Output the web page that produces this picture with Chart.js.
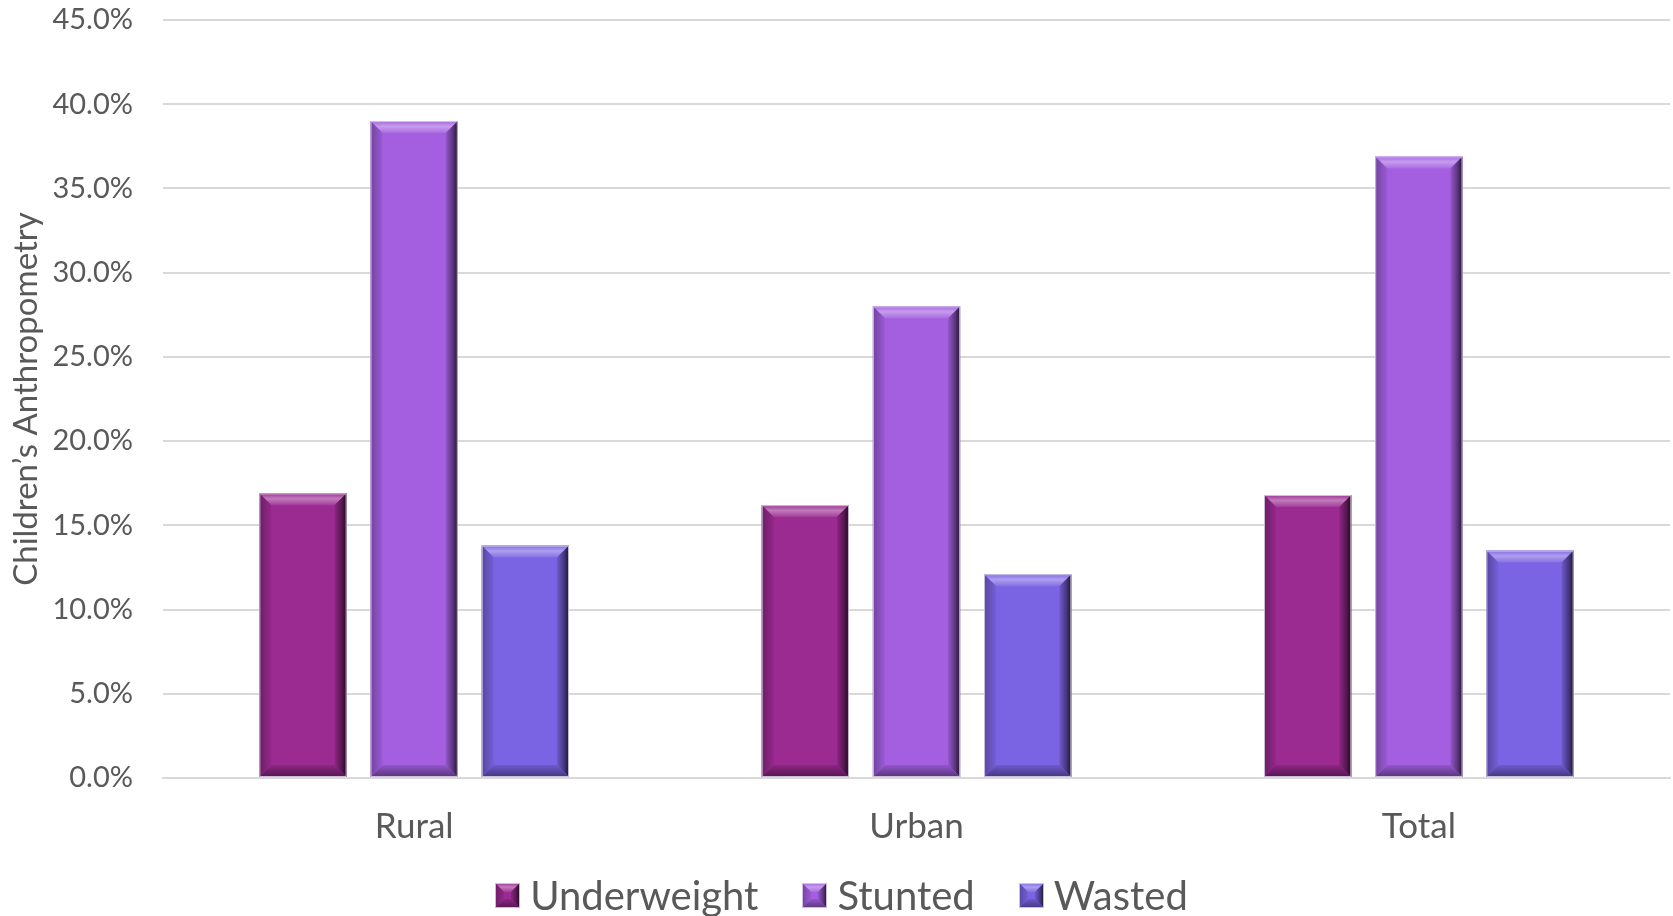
<!DOCTYPE html>
<html>
<head>
<meta charset="utf-8">
<script src="https://cdn.jsdelivr.net/npm/chart.js@4.4.1/dist/chart.umd.min.js"></script>
<style>
  html, body { margin: 0; padding: 0; background: #ffffff; }
  #wrap { position: relative; width: 1673px; height: 916px; overflow: hidden; }
  #c { position: absolute; left: 0; top: 0; }
  #legend { position: absolute; left: 5px; width: 1673px; top: 872px; height: 46px;
    display: flex; justify-content: center; align-items: center;
    font-family: Lato, 'Open Sans', sans-serif; font-size: 40px; color: #595959; }
  .item { display: flex; align-items: center; margin: 0 22px; }
  .item canvas { margin-right: 10px; }
</style>
</head>
<body>
<div id="wrap"><canvas id="c" width="1673" height="916"></canvas><div id="legend"></div></div>
<script>
const categories = ["Rural", "Urban", "Total"];
const underweight = [16.9, 16.2, 16.8];
const stunted = [39.0, 28.0, 36.9];
const wasted = [13.8, 12.1, 13.5];
const seriesNames = ["Underweight", "Stunted", "Wasted"];
const seriesColors = ["#9B2A91", "#A35FE0", "#7B64E3"];
const yTitle = "Children\u2019s Anthropometry";

function shade(hex, f) {
  const n = parseInt(hex.slice(1), 16);
  let r = (n >> 16) & 255, g = (n >> 8) & 255, b = n & 255;
  if (f >= 0) { r += (255 - r) * f; g += (255 - g) * f; b += (255 - b) * f; }
  else { r *= 1 + f; g *= 1 + f; b *= 1 + f; }
  return `rgb(${Math.round(r)},${Math.round(g)},${Math.round(b)})`;
}

function drawBevel(ctx, l, t, r, bot, color, bv) {
  const w = r - l, h = bot - t;
  bv = Math.min(bv, w / 2, h / 2);
  let g = ctx.createLinearGradient(0, t, 0, t + bv);
  g.addColorStop(0, shade(color, 0.05));
  g.addColorStop(0.45, shade(color, 0.38));
  g.addColorStop(1, shade(color, 0.08));
  ctx.fillStyle = g;
  ctx.beginPath(); ctx.moveTo(l, t); ctx.lineTo(r, t); ctx.lineTo(r - bv, t + bv); ctx.lineTo(l + bv, t + bv); ctx.closePath(); ctx.fill();
  g = ctx.createLinearGradient(r - bv, 0, r, 0);
  g.addColorStop(0, shade(color, -0.1));
  g.addColorStop(0.6, shade(color, -0.45));
  g.addColorStop(1, shade(color, -0.8));
  ctx.fillStyle = g;
  ctx.beginPath(); ctx.moveTo(r, t); ctx.lineTo(r, bot); ctx.lineTo(r - bv, bot - bv); ctx.lineTo(r - bv, t + bv); ctx.closePath(); ctx.fill();
  g = ctx.createLinearGradient(0, bot - bv, 0, bot);
  g.addColorStop(0, shade(color, -0.1));
  g.addColorStop(1, shade(color, -0.45));
  ctx.fillStyle = g;
  ctx.beginPath(); ctx.moveTo(l, bot); ctx.lineTo(r, bot); ctx.lineTo(r - bv, bot - bv); ctx.lineTo(l + bv, bot - bv); ctx.closePath(); ctx.fill();
  g = ctx.createLinearGradient(l, 0, l + bv, 0);
  g.addColorStop(0, shade(color, -0.3));
  g.addColorStop(1, shade(color, -0.05));
  ctx.fillStyle = g;
  ctx.beginPath(); ctx.moveTo(l, t); ctx.lineTo(l, bot); ctx.lineTo(l + bv, bot - bv); ctx.lineTo(l + bv, t + bv); ctx.closePath(); ctx.fill();
  ctx.strokeStyle = "rgba(215,205,230,0.9)";
  ctx.lineWidth = 1;
  ctx.strokeRect(l + 0.5, t + 0.5, w - 1, h - 1);
}

function legendIcon(color) {
  const s = 25;
  const cv = document.createElement("canvas");
  cv.width = s; cv.height = s;
  const ctx = cv.getContext("2d");
  ctx.fillStyle = color;
  ctx.fillRect(0, 0, s, s);
  drawBevel(ctx, 0, 0, s, s, color, 9);
  return cv;
}

const bevelPlugin = {
  id: "bevel",
  afterDatasetsDraw(chart) {
    const ctx = chart.ctx;
    ctx.save();
    chart.data.datasets.forEach((ds, i) => {
      const meta = chart.getDatasetMeta(i);
      meta.data.forEach(el => {
        const p = el.getProps(["x", "y", "base", "width"], true);
        drawBevel(ctx, p.x - p.width / 2, p.y, p.x + p.width / 2, p.base, ds.backgroundColor, 12);
      });
    });
    ctx.restore();
  }
};

const seriesData = [underweight, stunted, wasted];
const datasets = seriesNames.map((name, i) => ({
  label: name,
  data: seriesData[i],
  backgroundColor: seriesColors[i],
  borderWidth: 0,
  categoryPercentage: 0.664,
  barPercentage: 0.785
}));

const FONT = "Lato, 'Open Sans', sans-serif";
const chart = new Chart(document.getElementById("c"), {
  type: "bar",
  data: { labels: categories, datasets },
  options: {
    responsive: false,
    animation: false,
    devicePixelRatio: 1,
    layout: { padding: { left: 10, right: 3, top: 0, bottom: 40 } },
    plugins: { legend: { display: false }, tooltip: { enabled: false } },
    scales: {
      x: {
        grid: { display: false, drawTicks: false },
        border: { display: true, color: "#d9d9d9", width: 2 },
        ticks: { color: "#595959", font: { family: FONT, size: 35 }, padding: 28 }
      },
      y: {
        min: 0, max: 45,
        afterFit(scale) { scale.width = 153; scale.paddingTop = 20; },
        ticks: {
          stepSize: 5,
          color: "#595959",
          font: { family: FONT, size: 29 },
          padding: 30,
          callback: v => v.toFixed(1) + "%"
        },
        grid: { color: "#d9d9d9", lineWidth: 2, drawTicks: false },
        border: { display: false },
        title: {
          display: true,
          text: yTitle,
          color: "#595959",
          font: { family: FONT, size: 33, lineHeight: 1 },
          padding: { top: 0, bottom: 10 }
        }
      }
    }
  },
  plugins: [bevelPlugin]
});

const legend = document.getElementById("legend");
seriesNames.forEach((name, i) => {
  const item = document.createElement("div");
  item.className = "item";
  item.appendChild(legendIcon(seriesColors[i]));
  const sp = document.createElement("span");
  sp.textContent = name;
  item.appendChild(sp);
  legend.appendChild(item);
});
</script>
</body>
</html>
